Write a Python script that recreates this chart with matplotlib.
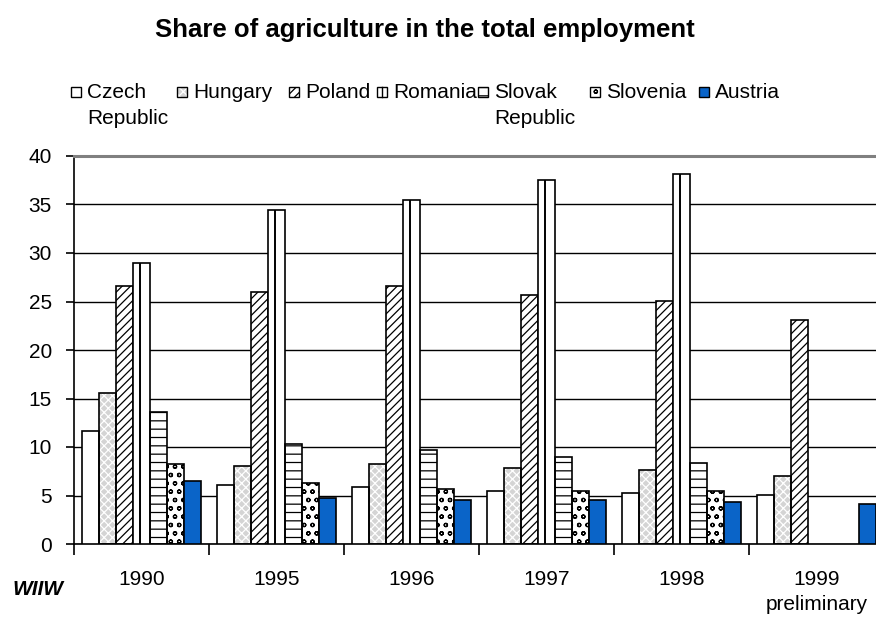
import matplotlib

matplotlib.use("Agg")

import matplotlib.pyplot as plt  # noqa: E402
import numpy as np  # noqa: E402
from matplotlib.lines import Line2D  # noqa: E402
from matplotlib.patches import Rectangle  # noqa: E402

plt.rcParams["font.family"] = ["Liberation Sans", "DejaVu Sans"]
plt.rcParams["hatch.linewidth"] = 0.9

# --- данные (читались с картинки) ---
YEARS = ["1990", "1995", "1996", "1997", "1998", "1999\npreliminary"]
COUNTRIES = ["Czech\nRepublic", "Hungary", "Poland", "Romania",
             "Slovak\nRepublic", "Slovenia", "Austria"]
czech    = [11.7, 6.1, 5.9, 5.5, 5.3, 5.1]
hungary  = [15.6, 8.0, 8.2, 7.8, 7.6, 7.0]
poland   = [26.6, 26.0, 26.6, 25.7, 25.1, 23.1]
romania  = [29.0, 34.4, 35.5, 37.5, 38.1, np.nan]
slovak   = [13.6, 10.3, 9.7, 9.0, 8.4, np.nan]
slovenia = [8.2, 6.3, 5.7, 5.5, 5.5, np.nan]
austria  = [6.5, 4.7, 4.5, 4.5, 4.3, 4.1]
SERIES = [czech, hungary, poland, romania, slovak, slovenia, austria]

# стиль заливки: (face, hatch, цвет штриховки)
STYLES = [
    ("white",   None,   None),
    ("#d4d4d4", "xxxx", "white"),
    ("white",   "////", "black"),
    ("white",   None,   None),       # Romania: линия по центру рисуется отдельно
    ("white",   "--",   "black"),
    ("white",   "oo",   "black"),
    ("#0a64c8", None,   None),
]
ROMANIA = 3

W_PX, H_PX = 876, 617
LEG_X = [71, 177, 289, 377, 478, 590, 699]   # левый край маркера, px
FS = 15


def fx(x):
    return x / W_PX


def fy(y):
    return 1 - y / H_PX


fig = plt.figure(figsize=(W_PX / 100, H_PX / 100), dpi=100, facecolor="white")
ax = fig.add_axes([fx(74), fy(544), 810 / W_PX, 388 / H_PX])

n = len(SERIES)
bw = 0.875 / n
xs = np.arange(len(YEARS))

for i, (vals, (face, hatch, hcol)) in enumerate(zip(SERIES, STYLES)):
    pos = xs + (i - (n - 1) / 2) * bw
    if hatch:
        ax.bar(pos, vals, bw, color=face, edgecolor=hcol, hatch=hatch,
               linewidth=0, zorder=2)
        ax.bar(pos, vals, bw, fill=False, edgecolor="black",
               linewidth=1.2, zorder=3)
    else:
        ax.bar(pos, vals, bw, color=face, edgecolor="black",
               linewidth=1.2, zorder=3)
    if i == ROMANIA:
        ax.vlines(pos - bw * 0.08, 0, vals, color="black", linewidth=1.4,
                  zorder=4)

ax.set_xlim(-0.5, len(YEARS) - 0.5)
ax.set_ylim(0, 40)
ax.set_yticks(range(0, 41, 5))
ax.yaxis.grid(True, color="black", linewidth=1.0, zorder=0)
ax.set_axisbelow(True)

ax.set_xticks(xs)
ax.set_xticklabels(YEARS, fontsize=FS, linespacing=1.35)
ax.set_xticks(np.arange(len(YEARS) + 1) - 0.5, minor=True)
ax.tick_params(axis="x", which="major", length=0, pad=19)
ax.tick_params(axis="x", which="minor", length=8, width=1.2,
               direction="out", color="black")
ax.tick_params(axis="y", length=6, width=1.2, direction="out",
               labelsize=FS, pad=10)

ax.spines["right"].set_visible(False)
ax.spines["top"].set_color("#808080")
ax.spines["top"].set_linewidth(2.2)
ax.spines["left"].set_linewidth(1.2)
ax.spines["bottom"].set_linewidth(1.2)

# легенда вручную (маркер + подпись, перенос как в Excel)
for i, (lx, label, (face, hatch, hcol)) in enumerate(
        zip(LEG_X, COUNTRIES, STYLES)):
    if hatch:
        fig.add_artist(Rectangle((fx(lx), fy(97)), 10 / W_PX, 10 / H_PX,
                                 transform=fig.transFigure, facecolor=face,
                                 edgecolor=hcol, hatch=hatch, linewidth=0))
    fig.add_artist(Rectangle((fx(lx), fy(97)), 10 / W_PX, 10 / H_PX,
                             transform=fig.transFigure,
                             facecolor=face if not hatch else "none",
                             edgecolor="black", linewidth=1.0))
    if i == ROMANIA:
        fig.add_artist(Line2D([fx(lx + 5), fx(lx + 5)], [fy(97), fy(87)],
                              transform=fig.transFigure, color="black",
                              linewidth=1.0))
    fig.text(fx(lx + 16), fy(83), label, fontsize=FS, va="top",
             ha="left", linespacing=1.45)

fig.text(fx(425), fy(30), "Share of agriculture in the total employment",
         fontsize=18.5, fontweight="bold", ha="center", va="center")
fig.text(fx(12), fy(595), "WIIW", fontsize=FS, fontweight="bold",
         fontstyle="italic", ha="left", va="baseline")

fig.savefig("out.png", dpi=100, facecolor="white")
plt.close(fig)
